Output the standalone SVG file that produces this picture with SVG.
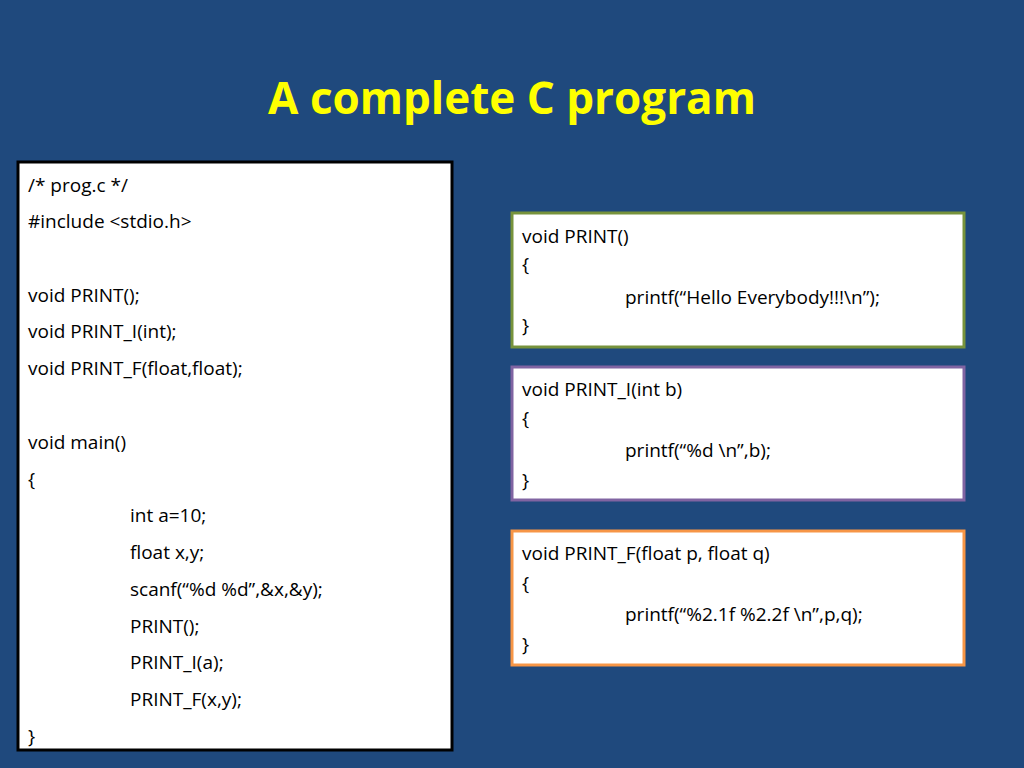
<svg xmlns="http://www.w3.org/2000/svg" width="1024" height="768" viewBox="0 0 1024 768">
<style>
.c{font-family:"Open Sans","Liberation Sans",sans-serif;font-size:19px;fill:#000}
.b{fill:#fff;stroke-width:3}
</style>
<rect width="1024" height="768" fill="#1f497d"/>
<text x="512" y="114" text-anchor="middle" font-family="'Open Sans','Liberation Sans',sans-serif" font-weight="bold" font-size="44" fill="#ffff00">A complete C program</text>
<g id="main">
<rect class="b" x="18" y="162" width="434" height="588" stroke="#000"/>
<text class="c" x="28" y="192">/* prog.c  */</text>
<text class="c" x="28" y="228">#include &lt;stdio.h&gt;</text>
<text class="c" x="28" y="302">void PRINT();</text>
<text class="c" x="28" y="338">void PRINT_I(int);</text>
<text class="c" x="28" y="375">void PRINT_F(float,float);</text>
<text class="c" x="28" y="449">void main()</text>
<text class="c" x="28" y="486">{</text>
<text class="c" x="130" y="522">int a=10;</text>
<text class="c" x="130" y="559">float x,y;</text>
<text class="c" x="130" y="596">scanf(“%d %d”,&amp;x,&amp;y);</text>
<text class="c" x="130" y="633">PRINT();</text>
<text class="c" x="130" y="669">PRINT_I(a);</text>
<text class="c" x="130" y="706">PRINT_F(x,y);</text>
<text class="c" x="28" y="743">}</text>
</g>
<g id="print">
<rect class="b" x="512" y="213" width="452" height="134" stroke="#77933c"/>
<text class="c" x="522" y="243">void PRINT()</text>
<text class="c" x="522" y="271">{</text>
<text class="c" x="625" y="304">printf(“Hello Everybody!!!\n”);</text>
<text class="c" x="522" y="332">}</text>
</g>
<g id="print_i">
<rect class="b" x="512" y="367" width="452" height="133" stroke="#8064a2"/>
<text class="c" x="522" y="396">void PRINT_I(int b)</text>
<text class="c" x="522" y="425">{</text>
<text class="c" x="625" y="457">printf(“%d \n”,b);</text>
<text class="c" x="522" y="487">}</text>
</g>
<g id="print_f">
<rect class="b" x="512" y="531" width="452" height="134" stroke="#f79646"/>
<text class="c" x="522" y="560">void PRINT_F(float p, float q)</text>
<text class="c" x="522" y="590">{</text>
<text class="c" x="625" y="621">printf(“%2.1f %2.2f \n”,p,q);</text>
<text class="c" x="522" y="651">}</text>
</g>
<g id="connectors"/>
</svg>
